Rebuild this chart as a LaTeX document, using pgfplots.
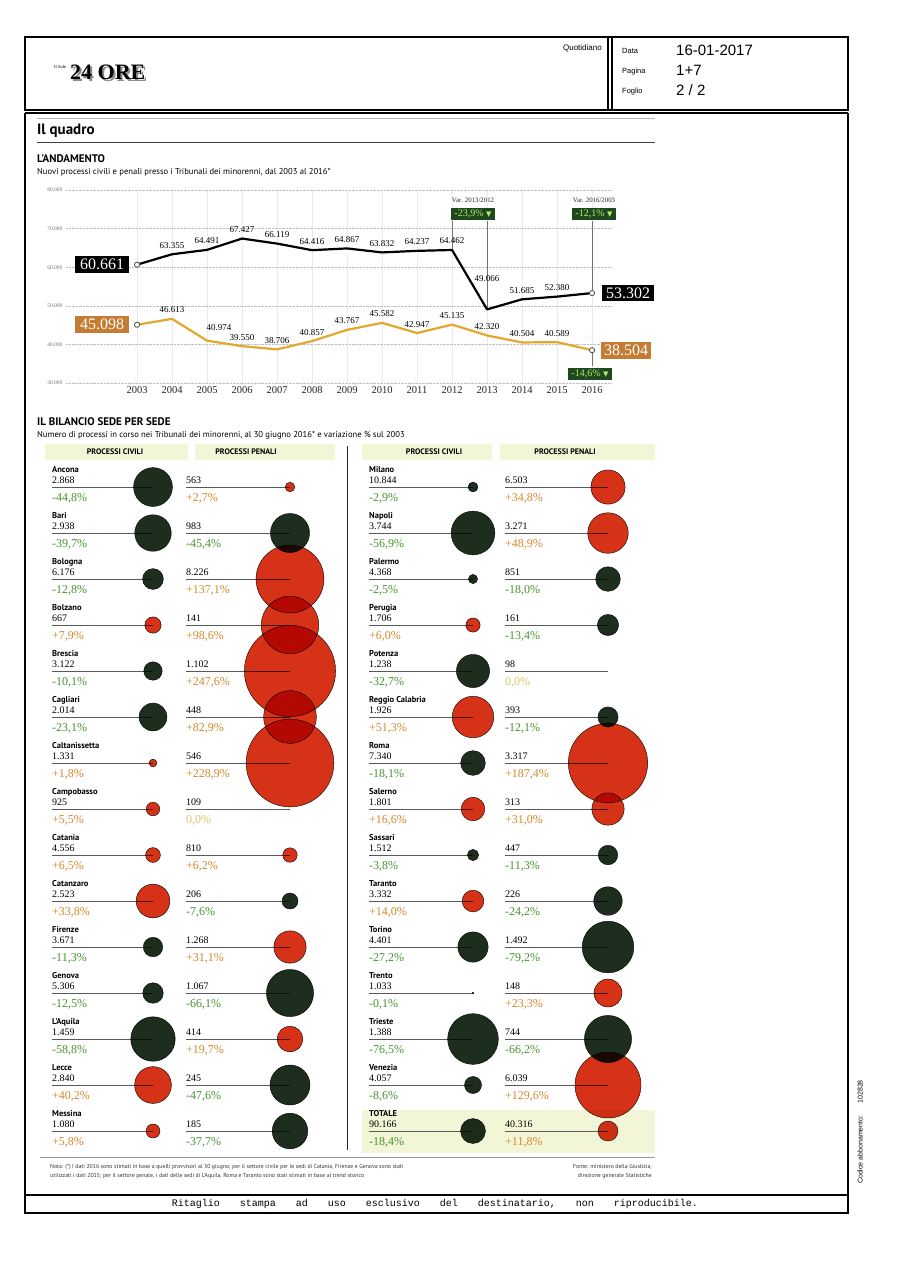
\documentclass[border=0pt]{standalone}
\usepackage{pgfplots}
\pgfplotsset{compat=1.18}
\usepackage{pgfplotstable}
\usepackage{fontspec}
\setmainfont{Liberation Serif}
\newfontfamily\pts{PT Sans}
\newfontfamily\lsans{Liberation Sans}
\newfontfamily\lmono{Liberation Mono}
\newfontfamily\djv{DejaVu Sans}
\newcommand\fs[1]{\fontsize{#1}{#1}\selectfont}
\definecolor{bubred}{RGB}{214,50,24}
\definecolor{bubdark}{RGB}{30,46,30}
\definecolor{pctneg}{RGB}{72,148,48}
\definecolor{pctpos}{RGB}{212,136,44}
\definecolor{pctzero}{RGB}{218,198,96}
\definecolor{penline}{RGB}{226,168,46}
\definecolor{penbox}{RGB}{196,124,52}
\definecolor{varbox}{RGB}{30,72,30}
\definecolor{vartext}{RGB}{184,232,104}
\definecolor{band}{RGB}{243,246,214}
\tikzset{lbl/.style={font=\fs{9}, anchor=base, inner sep=0, yshift=6pt}}

\pgfplotstableread{
year civ pen
2003 60661 45098
2004 63355 46613
2005 64491 40974
2006 67427 39550
2007 66119 38706
2008 64416 40857
2009 64867 43767
2010 63832 45582
2011 64237 42947
2012 64462 45135
2013 49066 42320
2014 51685 40504
2015 52380 40589
2016 53302 38504
}\trend

\pgfplotstableread{
row cp pp
0 -44.8 2.7
1 -39.7 -45.4
2 -12.8 137.1
3 7.9 98.6
4 -10.1 247.6
5 -23.1 82.9
6 1.8 228.9
7 5.5 0.0
8 6.5 6.2
9 33.8 -7.6
10 -11.3 31.1
11 -12.5 -66.1
12 -58.8 19.7
13 40.2 -47.6
14 5.8 -37.7
}\lefttab

\pgfplotstableread{
row cp pp
0 -2.9 34.8
1 -56.9 48.9
2 -2.5 -18.0
3 6.0 -13.4
4 -32.7 0.0
5 51.3 -12.1
6 -18.1 187.4
7 16.6 31.0
8 -3.8 -11.3
9 14.0 -24.2
10 -27.2 -79.2
11 -0.1 23.3
12 -76.5 -66.2
13 -8.6 129.6
14 -18.4 11.8
}\righttab

\pgfplotsset{
  bub/.style={scatter, only marks, mark=*,
    scatter/use mapped color={draw=none, fill=mapped color, blend mode=multiply},
    point meta={\thisrow{#1}>0},
    restrict expr to domain={abs(\thisrow{#1})}{0.05:1000},
    visualization depends on={2.9*sqrt(abs(\thisrow{#1})) \as \rad},
    scatter/@pre marker code/.append style={/tikz/mark size=\rad}}
}

\begin{document}
\begin{tikzpicture}[x=1pt,y=-1pt]
\path[use as bounding box, fill=white] (0,0) rectangle (911,1278);

% ---------- header ----------
\draw[line width=1.6pt] (25,37) rectangle (848,110);
\draw[line width=1.2pt] (608,37) -- (608,110);
\draw[line width=1.2pt] (612,37) -- (612,110);
\node[anchor=base east, font=\lsans\fs{8}, inner sep=0] at (602,50) {Quotidiano};
\node[anchor=base west, font=\lsans\fs{7.5}, inner sep=0] at (622,53) {Data};
\node[anchor=base west, font=\lsans\fs{15}, inner sep=0] at (676,55) {16-01-2017};
\node[anchor=base west, font=\lsans\fs{7.5}, inner sep=0] at (622,73) {Pagina};
\node[anchor=base west, font=\lsans\fs{15}, inner sep=0] at (676,75) {1+7};
\node[anchor=base west, font=\lsans\fs{7.5}, inner sep=0] at (622,93) {Foglio};
\node[anchor=base west, font=\lsans\fs{15}, inner sep=0] at (676,95) {2 / 2};
\node[anchor=base west, font=\fs{4.5}, inner sep=0] at (54,68) {Il Sole};
\node[anchor=base west, font=\bfseries\fs{22}, text=black!45, inner sep=0] at (72,81) {24 ORE};
\node[anchor=base west, font=\bfseries\fs{22}, inner sep=0] at (70,79) {24 ORE};

% ---------- content frame ----------
\draw[line width=1.2pt] (25,113) -- (848,113);
\draw[line width=1.2pt] (25,113) -- (25,1213) -- (848,1213) -- (848,113);
\draw[line width=1.6pt] (25,1195) -- (848,1195);
\node[font=\lmono\fs{10}, inner sep=0] at (435,1204) {\spaceskip=20pt Ritaglio stampa ad uso esclusivo del destinatario, non riproducibile.};
\node[rotate=90, font=\lsans\fs{7}, inner sep=0] at (860,1132) {Codice abbonamento:\hspace{12pt}102828};

% ---------- titles ----------
\draw[black!30, line width=0.6pt] (37,118) -- (655,118);
\node[anchor=base west, font=\pts\bfseries\fs{15}, inner sep=0] at (37,134) {Il quadro};
\draw[black!75, line width=0.8pt] (37,142) -- (655,142);
\node[anchor=base west, font=\pts\bfseries\fs{11}, inner sep=0] at (37,162) {L'ANDAMENTO};
\node[anchor=base west, font=\pts\fs{8.6}, inner sep=0] at (37,174) {Nuovi processi civili e penali presso i Tribunali dei minorenni, dal 2003 al 2016*};

% ---------- line chart ----------
\begin{axis}[
  at={(66pt,-383pt)}, anchor=south west,
  scale only axis, width=546pt, height=193pt,
  xmin=2000.97, xmax=2016.57, ymin=30000, ymax=80000,
  axis line style={draw=none}, major tick length=0pt,
  xtick={2003,2004,...,2016},
  x tick label style={/pgf/number format/1000 sep={}, font=\fs{10.5}, text=black!85},
  ytick={30000,40000,50000,60000,70000,80000},
  yticklabels={30.000,40.000,50.000,60.000,70.000,80.000},
  scaled y ticks=false, scaled x ticks=false,
  y tick label style={font=\fs{5.5}, text=black!55},
  /pgf/number format/assume math mode=true,
  ymajorgrids, xmajorgrids,
  y grid style={black!25, densely dotted, line width=0.5pt},
  x grid style={black!8, line width=0.5pt},
  clip=false,
]
\draw[black!55, line width=0.6pt] (axis cs:2012,71900) -- (axis cs:2012,64462);
\draw[black!55, line width=0.6pt] (axis cs:2013,71900) -- (axis cs:2013,49066);
\draw[black!55, line width=0.6pt] (axis cs:2016,71900) -- (axis cs:2016,53302);
\draw[black!55, line width=0.6pt] (axis cs:2016,38504) -- (axis cs:2016,34400);
\addplot[penline, line width=2.2pt, line join=round, mark=none] table[x=year,y=pen]{\trend};
\addplot[black, line width=2.2pt, line join=round, mark=none] table[x=year,y=civ]{\trend};
\addplot[only marks, mark=*, mark size=2.6pt, mark options={fill=white, draw=black!70, line width=0.8pt}, mark indices={1,14}] table[x=year,y=civ]{\trend};
\addplot[only marks, mark=*, mark size=2.6pt, mark options={fill=white, draw=black!70, line width=0.8pt}, mark indices={1,14}] table[x=year,y=pen]{\trend};
\node[lbl] at (axis cs:2004,63355) {63.355};
\node[lbl] at (axis cs:2005,64491) {64.491};
\node[lbl] at (axis cs:2006,67427) {67.427};
\node[lbl] at (axis cs:2007,66119) {66.119};
\node[lbl] at (axis cs:2008,64416) {64.416};
\node[lbl] at (axis cs:2009,64867) {64.867};
\node[lbl] at (axis cs:2010,63832) {63.832};
\node[lbl] at (axis cs:2011,64237) {64.237};
\node[lbl] at (axis cs:2012,64462) {64.462};
\node[lbl, yshift=22pt] at (axis cs:2013,49066) {49.066};
\node[lbl] at (axis cs:2014,51685) {51.685};
\node[lbl] at (axis cs:2015,52380) {52.380};
\node[lbl] at (axis cs:2004,46613) {46.613};
\node[lbl, xshift=12pt, yshift=4pt] at (axis cs:2005,40974) {40.974};
\node[lbl] at (axis cs:2006,39550) {39.550};
\node[lbl] at (axis cs:2007,38706) {38.706};
\node[lbl] at (axis cs:2008,40857) {40.857};
\node[lbl] at (axis cs:2009,43767) {43.767};
\node[lbl] at (axis cs:2010,45582) {45.582};
\node[lbl] at (axis cs:2011,42947) {42.947};
\node[lbl] at (axis cs:2012,45135) {45.135};
\node[lbl] at (axis cs:2013,42320) {42.320};
\node[lbl] at (axis cs:2014,40504) {40.504};
\node[lbl] at (axis cs:2015,40589) {40.589};
\node[fill=black, text=white, font=\fs{16}, inner xsep=5pt, inner ysep=3pt, xshift=-35pt] at (axis cs:2003,60661) {60.661};
\node[fill=penbox, text=white, font=\fs{16}, inner xsep=5pt, inner ysep=3pt, xshift=-35pt] at (axis cs:2003,45098) {45.098};
\node[fill=black, text=white, font=\fs{16}, inner xsep=4pt, inner ysep=3pt, xshift=36pt] at (axis cs:2016,53302) {53.302};
\node[fill=penbox, text=white, font=\fs{16}, inner xsep=3pt, inner ysep=3pt, xshift=34pt] at (axis cs:2016,38504) {38.504};
\end{axis}

\node[font=\fs{6.8}, text=black!85] at (473,200) {Var. 2013/2012};
\node[fill=varbox, text=vartext, font=\fs{10}, inner xsep=3pt, inner ysep=2pt] at (473,214) {-23,9\% {\djv\fs{7}▼}};
\node[font=\fs{6.8}, text=black!85] at (594,200) {Var. 2016/2003};
\node[fill=varbox, text=vartext, font=\fs{10}, inner xsep=3pt, inner ysep=2pt] at (594,214) {-12,1\% {\djv\fs{7}▼}};
\node[fill=varbox, text=vartext, font=\fs{10}, inner xsep=3pt, inner ysep=2pt] at (590,374) {-14,6\% {\djv\fs{7}▼}};

% ---------- bubble section ----------
\node[anchor=base west, font=\pts\bfseries\fs{11}, inner sep=0] at (37,425) {IL BILANCIO SEDE PER SEDE};
\node[anchor=base west, font=\pts\fs{8.6}, inner sep=0] at (37,437) {Numero di processi in corso nei Tribunali dei minorenni, al 30 giugno 2016* e variazione \% sul 2003};
\fill[band] (45,444) rectangle (188,460);
\fill[band] (195,444) rectangle (335,460);
\fill[band] (362,444) rectangle (492,460);
\fill[band] (500,444) rectangle (655,460);
\fill[band] (362,1110) rectangle (655,1153);
\node[font=\pts\bfseries\fs{8}] at (115,452) {PROCESSI CIVILI};
\node[font=\pts\bfseries\fs{8}] at (246,452) {PROCESSI PENALI};
\node[font=\pts\bfseries\fs{8}] at (434,452) {PROCESSI CIVILI};
\node[font=\pts\bfseries\fs{8}] at (565,452) {PROCESSI PENALI};
\draw[black!85, line width=0.9pt] (347,446) -- (347,1150);
\draw[black!40, line width=0.6pt] (40,1157) -- (655,1157);

\foreach \i in {0,...,14}{
  \pgfmathsetmacro\yy{487+46*\i}
  \draw[black!65, line width=0.55pt] (52,\yy) -- (153,\yy);
  \draw[black!65, line width=0.55pt] (186,\yy) -- (290,\yy);
  \draw[black!65, line width=0.55pt] (369,\yy) -- (473,\yy);
  \draw[black!65, line width=0.55pt] (505,\yy) -- (608,\yy);
}

\begin{axis}[at={(0pt,0pt)}, anchor=north west, x=1pt, y=1pt, y dir=reverse,
  xmin=0, xmax=911, ymin=0, ymax=1278, hide axis, clip=false,
  colormap={bub}{color=(bubdark) color=(bubdark) color=(bubred) color=(bubred)},
  point meta min=0, point meta max=1]
\addplot[bub=cp] table[x expr=153, y expr=487+46*\thisrow{row}]{\lefttab};
\addplot[bub=pp] table[x expr=290, y expr=487+46*\thisrow{row}]{\lefttab};
\addplot[bub=cp] table[x expr=473, y expr=487+46*\thisrow{row}]{\righttab};
\addplot[bub=pp] table[x expr=608, y expr=487+46*\thisrow{row}]{\righttab};
\end{axis}

\foreach \i/\n/\cv/\cp/\pv/\pp/\cc/\pc in {
0/Ancona/2.868/{-44,8}/563/{+2,7}/pctneg/pctpos,
1/Bari/2.938/{-39,7}/983/{-45,4}/pctneg/pctneg,
2/Bologna/6.176/{-12,8}/8.226/{+137,1}/pctneg/pctpos,
3/Bolzano/667/{+7,9}/141/{+98,6}/pctpos/pctpos,
4/Brescia/3.122/{-10,1}/1.102/{+247,6}/pctneg/pctpos,
5/Cagliari/2.014/{-23,1}/448/{+82,9}/pctneg/pctpos,
6/Caltanissetta/1.331/{+1,8}/546/{+228,9}/pctpos/pctpos,
7/Campobasso/925/{+5,5}/109/{0,0}/pctpos/pctzero,
8/Catania/4.556/{+6,5}/810/{+6,2}/pctpos/pctpos,
9/Catanzaro/2.523/{+33,8}/206/{-7,6}/pctpos/pctneg,
10/Firenze/3.671/{-11,3}/1.268/{+31,1}/pctneg/pctpos,
11/Genova/5.306/{-12,5}/1.067/{-66,1}/pctneg/pctneg,
12/L'Aquila/1.459/{-58,8}/414/{+19,7}/pctneg/pctpos,
13/Lecce/2.840/{+40,2}/245/{-47,6}/pctpos/pctneg,
14/Messina/1.080/{+5,8}/185/{-37,7}/pctpos/pctneg}{
  \pgfmathsetmacro\yy{487+46*\i}
  \node[anchor=base west, inner sep=0, font=\pts\bfseries\fs{8.5}] at (52,\yy-14.5) {\n};
  \node[anchor=base west, inner sep=0, font=\fs{10}] at (52,\yy-3.5) {\cv};
  \node[anchor=base west, inner sep=0, font=\fs{12}, text=\cc] at (52,\yy+14) {\cp\%};
  \node[anchor=base west, inner sep=0, font=\fs{10}] at (186,\yy-3.5) {\pv};
  \node[anchor=base west, inner sep=0, font=\fs{12}, text=\pc] at (186,\yy+14) {\pp\%};
}

\foreach \i/\n/\cv/\cp/\pv/\pp/\cc/\pc in {
0/Milano/10.844/{-2,9}/6.503/{+34,8}/pctneg/pctpos,
1/Napoli/3.744/{-56,9}/3.271/{+48,9}/pctneg/pctpos,
2/Palermo/4.368/{-2,5}/851/{-18,0}/pctneg/pctneg,
3/Perugia/1.706/{+6,0}/161/{-13,4}/pctpos/pctneg,
4/Potenza/1.238/{-32,7}/98/{0,0}/pctneg/pctzero,
5/Reggio Calabria/1.926/{+51,3}/393/{-12,1}/pctpos/pctneg,
6/Roma/7.340/{-18,1}/3.317/{+187,4}/pctneg/pctpos,
7/Salerno/1.801/{+16,6}/313/{+31,0}/pctpos/pctpos,
8/Sassari/1.512/{-3,8}/447/{-11,3}/pctneg/pctneg,
9/Taranto/3.332/{+14,0}/226/{-24,2}/pctpos/pctneg,
10/Torino/4.401/{-27,2}/1.492/{-79,2}/pctneg/pctneg,
11/Trento/1.033/{-0,1}/148/{+23,3}/pctneg/pctpos,
12/Trieste/1.388/{-76,5}/744/{-66,2}/pctneg/pctneg,
13/Venezia/4.057/{-8,6}/6.039/{+129,6}/pctneg/pctpos,
14/TOTALE/90.166/{-18,4}/40.316/{+11,8}/pctneg/pctpos}{
  \pgfmathsetmacro\yy{487+46*\i}
  \node[anchor=base west, inner sep=0, font=\pts\bfseries\fs{8.5}] at (369,\yy-14.5) {\n};
  \node[anchor=base west, inner sep=0, font=\fs{10}] at (369,\yy-3.5) {\cv};
  \node[anchor=base west, inner sep=0, font=\fs{12}, text=\cc] at (369,\yy+14) {\cp\%};
  \node[anchor=base west, inner sep=0, font=\fs{10}] at (505,\yy-3.5) {\pv};
  \node[anchor=base west, inner sep=0, font=\fs{12}, text=\pc] at (505,\yy+14) {\pp\%};
}

% ---------- notes ----------
\node[anchor=base west, inner sep=0, font=\pts\fs{5.8}, text=black!80] at (50,1168) {Nota: (*) I dati 2016 sono stimati in base a quelli provvisori al 30 giugno; per il settore civile per le sedi di Catania, Firenze e Genova sono stati};
\node[anchor=base west, inner sep=0, font=\pts\fs{5.8}, text=black!80] at (50,1177) {utilizzati i dati 2015; per il settore penale, i dati delle sedi di L'Aquila, Roma e Taranto sono stati stimati in base al trend storico};
\node[anchor=base east, inner sep=0, font=\pts\fs{5.8}, text=black!80] at (652,1168) {Fonte: ministero della Giustizia,};
\node[anchor=base east, inner sep=0, font=\pts\fs{5.8}, text=black!80] at (652,1177) {direzione generale Statistiche};
\end{tikzpicture}
\end{document}
